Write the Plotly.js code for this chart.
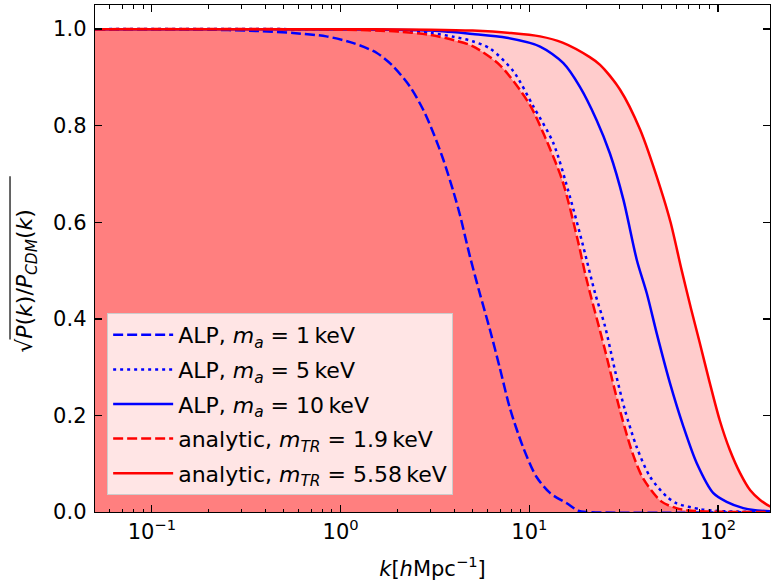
<!DOCTYPE html>
<html>
<head>
<meta charset="utf-8">
<script src="https://cdn.plot.ly/plotly-3.0.1.min.js"></script>
<style>html,body{margin:0;padding:0;background:#fff;}#chart{width:771px;height:583px;}</style>
</head>
<body>
<div id="chart"></div>
<script>
// ALP, m_a = 1 keV
const kBlueDashed = [0.05,0.2,0.37,0.56,0.84,1.17,1.55,1.9,2.33,2.74,3.1,3.5,3.95,4.29,4.84,5.47,6.18,6.98,7.89,9.29,10.9,12.9,15.8,18.1,20,200];
const yBlueDashed = [1,0.999,0.996,0.992,0.985,0.971,0.951,0.923,0.881,0.833,0.785,0.73,0.665,0.615,0.53,0.452,0.378,0.298,0.215,0.133,0.073,0.039,0.018,0.003,0,0];
// ALP, m_a = 5 keV
const kBlueDotted = [0.05,1,2,3,4,5,6.18,8.22,10.5,13.4,16.4,19.3,22.3,25.2,28.4,32.1,37,43.6,53.4,60.3,80,100,200];
const yBlueDotted = [1,0.9995,0.997,0.992,0.984,0.975,0.96,0.913,0.84,0.764,0.653,0.55,0.453,0.384,0.294,0.211,0.135,0.073,0.032,0.018,0.006,0.002,0];
// ALP, m_a = 10 keV
const kBlueSolid = [0.05,1,3,5,7.59,11.4,15.1,18.5,22.7,26.7,31.5,37.1,41.9,47.3,55.6,65.5,77.1,94.4,111,136,154,200];
const yBlueSolid = [1,0.9995,0.997,0.99,0.982,0.964,0.93,0.881,0.812,0.743,0.647,0.522,0.453,0.37,0.267,0.177,0.101,0.039,0.021,0.008,0.004,0.001];
// analytic, m_TR = 1.9 keV
const kRedDashed = [0.05,0.5,1,2,3,4,5,7,10,12,15,18,20,25,30,35,40,50,60,70,100,200];
const yRedDashed = [1,1,0.999,0.995,0.988,0.977,0.965,0.925,0.845,0.78,0.685,0.565,0.485,0.34,0.215,0.125,0.07,0.022,0.008,0.003,0.0005,0];
// analytic, m_TR = 5.58 keV
const kRedSolid = [0.05,1,3,5,8,11.4,15,20.9,23.7,30.2,38.6,49.2,56,64,72,80,90,102,115,131,148,167,190,200];
const yRedSolid = [1,1,0.999,0.997,0.992,0.985,0.972,0.942,0.926,0.875,0.792,0.674,0.6,0.502,0.42,0.35,0.27,0.19,0.13,0.08,0.045,0.025,0.011,0.008];

const legendNames = [
  "ALP, <i>m</i><sub><i>a</i></sub> = 1\u2009keV",
  "ALP, <i>m</i><sub><i>a</i></sub> = 5\u2009keV",
  "ALP, <i>m</i><sub><i>a</i></sub> = 10\u2009keV",
  "analytic, <i>m</i><sub><i>TR</i></sub> = 1.9\u2009keV",
  "analytic, <i>m</i><sub><i>TR</i></sub> = 5.58\u2009keV"
];
const xTickVals = [0.1, 1, 10, 100];
const xTickText = ["10<sup>\u22121</sup>", "10<sup>0</sup>", "10<sup>1</sup>", "10<sup>2</sup>"];
const xMinorVals = [0.06,0.07,0.08,0.09,0.2,0.3,0.4,0.5,0.6,0.7,0.8,0.9,2,3,4,5,6,7,8,9,20,30,40,50,60,70,80,90,200];
const yTickVals = [0, 0.2, 0.4, 0.6, 0.8, 1.0];

const LW = 2.5;
const SM = 0.8;
const traces = [
  {x: kRedDashed, y: yRedDashed, type: 'scatter', mode: 'lines', fill: 'tozeroy',
   fillcolor: 'rgba(255,0,0,0.5)', line: {width: 0, color: 'rgba(0,0,0,0)', shape: 'spline', smoothing: SM}, showlegend: false, hoverinfo: 'skip'},
  {x: kRedSolid, y: yRedSolid, type: 'scatter', mode: 'lines', fill: 'tonexty',
   fillcolor: 'rgba(255,0,0,0.2)', line: {width: 0, color: 'rgba(0,0,0,0)', shape: 'spline', smoothing: SM}, showlegend: false, hoverinfo: 'skip'},
  {x: kBlueDashed, y: yBlueDashed, name: legendNames[0], legendgroup: 'a', mode: 'lines',
   line: {color: '#0000ff', width: LW, dash: '10px,4px', shape: 'spline', smoothing: SM}},
  {x: kBlueDotted, y: yBlueDotted, name: legendNames[1], legendgroup: 'b', mode: 'lines',
   line: {color: '#0000ff', width: LW, dash: '3px,4px', shape: 'spline', smoothing: SM}},
  {x: kBlueSolid, y: yBlueSolid, name: legendNames[2], legendgroup: 'c', mode: 'lines',
   line: {color: '#0000ff', width: LW, shape: 'spline', smoothing: SM}},
  {x: kRedDashed, y: yRedDashed, name: legendNames[3], legendgroup: 'd', mode: 'lines',
   line: {color: '#ff0000', width: LW, dash: '10px,4px', shape: 'spline', smoothing: SM}},
  {x: kRedSolid, y: yRedSolid, name: legendNames[4], legendgroup: 'e', mode: 'lines',
   line: {color: '#ff0000', width: LW, shape: 'spline', smoothing: SM}}
];

const FONT = 'DejaVu Sans, sans-serif';
const layout = {
  width: 771, height: 583,
  margin: {l: 95, r: 1, t: 5, b: 71},
  paper_bgcolor: '#ffffff', plot_bgcolor: '#ffffff',
  font: {family: FONT, size: 21, color: '#000'},
  showlegend: true,
  legend: {
    x: 0.018, y: 0.3925, xanchor: 'left', yanchor: 'top',
    bgcolor: 'rgba(255,255,255,0.8)', bordercolor: '#cccccc', borderwidth: 1,
    font: {family: FONT, size: 22, color: '#000'},
    traceorder: 'grouped', tracegroupgap: 3, itemwidth: 60
  },
  xaxis: {
    type: 'log', range: [Math.log10(0.05), 2.275],
    tickmode: 'array', tickvals: xTickVals, ticktext: xTickText,
    ticks: 'inside', ticklen: 7, tickwidth: 1.3, tickcolor: '#000',
    showline: true, linecolor: '#000', linewidth: 1.3, mirror: 'ticks',
    showgrid: false, zeroline: false, ticklabelstandoff: 0,
    minor: {tickmode: 'array', tickvals: xMinorVals, ticks: 'inside', ticklen: 3.5, tickwidth: 1, tickcolor: '#000', showgrid: false},
    title: {text: '<i>k</i>[<i>h</i>Mpc<sup>\u22121</sup>]', font: {family: FONT, size: 21}, standoff: 18}
  },
  yaxis: {
    range: [0, 1.05],
    tickmode: 'array', tickvals: yTickVals, tickformat: '.1f',
    ticks: 'inside', ticklen: 7, tickwidth: 1.3, tickcolor: '#000',
    showline: true, linecolor: '#000', linewidth: 1.3, mirror: 'ticks',
    showgrid: false, zeroline: false, ticklabelstandoff: 3
  },
  annotations: [{
    text: '\u221A<i>P</i>(<i>k</i>)/<i>P</i><sub><i>CDM</i></sub>(<i>k</i>)',
    xref: 'paper', yref: 'paper', x: -0.1007, y: 0.456,
    xanchor: 'center', yanchor: 'middle', textangle: -90, showarrow: false,
    font: {family: FONT, size: 22, color: '#000'}
  }],
  shapes: [{
    type: 'line', xref: 'paper', yref: 'paper',
    x0: -0.1259, x1: -0.1259, y0: 0.34, y1: 0.662,
    line: {color: '#000', width: 1.2}
  }]
};

Plotly.newPlot('chart', traces, layout, {staticPlot: true, displayModeBar: false});
</script>
</body>
</html>
